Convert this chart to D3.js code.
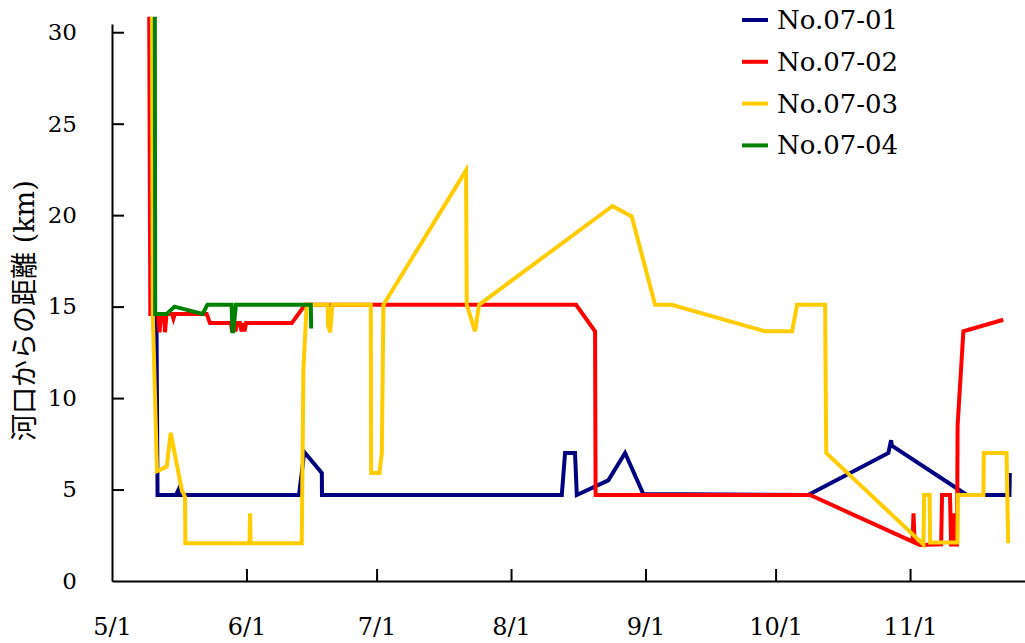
<!DOCTYPE html>
<html>
<head>
<meta charset="utf-8">
<script src="https://cdn.jsdelivr.net/npm/d3@7"></script>
<style>
  html, body { margin: 0; padding: 0; background: #fff; }
  svg { display: block; }
  .axis text { font-family: "DejaVu Serif", serif; fill: #000; }
  .axis path, .axis line { stroke: #000; stroke-width: 2px; }
</style>
</head>
<body>
<svg id="chart" width="1025" height="643"></svg>
<script>
// Tracking records: distance from the river mouth (km) over time, 2007 season
const seriesNames = ["No.07-01", "No.07-02", "No.07-03", "No.07-04"];
const seriesColors = ["#000080", "#ff0000", "#ffcc00", "#008000"];

const track0701 = [
  ["05/11 06:00", 14.5], ["05/11 12:00", 4.7], ["05/15 18:00", 4.7], ["05/16 06:00", 4.95],
  ["05/16 12:00", 4.7], ["06/13 03:00", 4.7], ["06/14 08:00", 7.05], ["06/18 09:00", 5.9],
  ["06/18 10:00", 4.7], ["08/12 17:00", 4.7], ["08/13 11:00", 7.0], ["08/15 18:00", 7.0],
  ["08/16 04:00", 4.7], ["08/23 10:00", 5.5], ["08/27 07:00", 7.0], ["08/31 12:00", 4.75],
  ["10/08 12:00", 4.7], ["10/27 00:00", 7.0], ["10/27 15:00", 7.7], ["10/27 19:00", 7.4],
  ["11/11 18:00", 5.07], ["11/14 02:00", 4.7], ["11/23 22:00", 4.7], ["11/24 00:00", 5.9]
];

const track0702 = [
  ["05/09 14:00", 30.85], ["05/09 20:00", 14.6], ["05/11 14:00", 14.6], ["05/11 23:00", 13.6],
  ["05/12 07:00", 14.6], ["05/13 00:00", 14.6], ["05/13 05:00", 13.6], ["05/13 14:00", 14.6],
  ["05/14 20:00", 14.6], ["05/15 04:00", 14.35], ["05/15 12:00", 14.6], ["05/22 20:00", 14.6],
  ["05/23 14:00", 14.1], ["05/28 11:00", 14.1], ["05/28 16:00", 13.65], ["05/28 21:00", 14.1],
  ["05/29 03:00", 14.1], ["05/29 11:00", 13.65], ["05/29 20:00", 14.1], ["05/30 12:00", 14.1],
  ["05/30 21:00", 13.65], ["05/31 05:00", 14.1], ["05/31 13:00", 13.65], ["05/31 22:00", 14.1],
  ["06/11 11:00", 14.1], ["06/14 12:00", 15.1], ["08/16 00:00", 15.1], ["08/20 09:00", 13.65],
  ["08/20 12:00", 4.7], ["10/08 23:00", 4.7], ["11/01 14:00", 2.15], ["11/01 19:00", 3.7],
  ["11/02 01:00", 2.1], ["11/03 07:00", 1.97], ["11/08 04:00", 2.0], ["11/08 09:00", 4.7],
  ["11/10 05:00", 4.7], ["11/10 11:00", 2.0], ["11/11 01:00", 2.0], ["11/11 06:00", 3.7],
  ["11/11 12:00", 2.0], ["11/11 20:00", 2.0], ["11/11 23:00", 8.5], ["11/13 07:00", 13.65],
  ["11/22 12:00", 14.28]
];

const track0703 = [
  ["05/10 05:00", 30.85], ["05/10 10:00", 14.5], ["05/11 09:00", 6.0], ["05/13 15:00", 6.25],
  ["05/14 13:00", 8.1], ["05/17 02:00", 4.98], ["05/17 20:00", 4.6], ["05/17 22:00", 2.06],
  ["06/01 17:00", 2.06], ["06/01 20:00", 3.7], ["06/01 23:00", 2.06], ["06/13 18:00", 2.06],
  ["06/14 03:00", 11.5], ["06/14 21:00", 15.1], ["06/19 17:00", 15.1], ["06/19 19:00", 14.0],
  ["06/20 07:00", 13.6], ["06/20 19:00", 15.1], ["06/29 16:00", 15.1], ["06/29 18:00", 5.9],
  ["07/01 16:00", 5.9], ["07/02 05:00", 7.0], ["07/02 14:00", 15.1], ["07/21 15:00", 22.45],
  ["07/21 19:00", 15.1], ["07/23 17:00", 13.65], ["07/24 15:00", 15.1], ["08/24 09:00", 20.5],
  ["08/28 20:00", 19.93], ["09/03 05:00", 15.1], ["09/07 01:00", 15.1], ["09/28 14:00", 13.65],
  ["10/04 19:00", 13.65], ["10/05 23:00", 15.1], ["10/12 10:00", 15.1], ["10/12 16:00", 7.0],
  ["11/04 02:00", 2.0], ["11/04 06:00", 4.7], ["11/05 12:00", 4.7], ["11/05 15:00", 2.1],
  ["11/11 22:00", 2.1], ["11/12 00:00", 4.7], ["11/17 22:00", 4.7], ["11/18 00:00", 7.0],
  ["11/23 06:00", 7.0], ["11/23 15:00", 2.06]
];

const track0704 = [
  ["05/10 21:00", 30.85], ["05/10 23:00", 14.6], ["05/13 15:00", 14.6], ["05/15 10:00", 15.0],
  ["05/21 21:00", 14.6], ["05/23 00:00", 15.1], ["05/28 14:00", 15.1], ["05/28 18:00", 13.65],
  ["05/28 23:00", 13.65], ["05/29 14:00", 15.1], ["06/15 20:00", 15.1], ["06/15 22:00", 13.8]
];

const tracks = [track0701, track0702, track0703, track0704];

const xTickLabels = ["5/1", "6/1", "7/1", "8/1", "9/1", "10/1", "11/1"];
const yTickValues = [0, 5, 10, 15, 20, 25, 30];
const yTitle = "河口からの距離 (km)";

const year = 2007;
const parseTime = d3.timeParse("%Y/%m/%d %H:%M");
const parseTick = d3.timeParse("%Y/%m/%d");

const svg = d3.select("#chart");

const x = d3.scaleTime()
  .domain([parseTime(year + "/05/01 00:00"), parseTime(year + "/11/27 12:00")])
  .range([112, 1025]);

const y = d3.scaleLinear()
  .domain([0, 30.45])
  .range([581, 24]);

// axes, ticks pointing into the plot
const xTicks = xTickLabels.map(s => parseTick(year + "/" + s));
const xAxis = d3.axisBottom(x)
  .tickValues(xTicks)
  .tickFormat((d, i) => xTickLabels[i])
  .tickSizeInner(-12)
  .tickSizeOuter(0)
  .tickPadding(37);

svg.append("g")
  .attr("class", "axis x")
  .attr("transform", `translate(0,${y(0)})`)
  .call(xAxis)
  .call(g => g.selectAll("text").style("font-size", "24px"))
  .call(g => g.selectAll(".tick").filter((d, i) => i === 0).select("line").remove());

const yAxis = d3.axisLeft(y)
  .tickValues(yTickValues)
  .tickSizeInner(-12)
  .tickSizeOuter(0)
  .tickPadding(35);

svg.append("g")
  .attr("class", "axis y")
  .attr("transform", `translate(${x.range()[0]},0)`)
  .call(yAxis)
  .call(g => g.selectAll("text").style("font-size", "23px"))
  .call(g => g.selectAll(".tick").filter(d => d === 0).select("line").remove());

svg.append("text")
  .attr("transform", `translate(24,${(y(0) + y(30)) / 2 + 4}) rotate(-90)`)
  .attr("text-anchor", "middle")
  .attr("dominant-baseline", "central")
  .style("font-family", "'DejaVu Serif', 'Noto Sans CJK JP', serif")
  .style("font-size", "27px")
  .text(yTitle);

// series lines
const line = d3.line()
  .x(d => x(parseTime(year + "/" + d[0])))
  .y(d => y(d[1]));

svg.append("g")
  .selectAll("path")
  .data(tracks)
  .join("path")
  .attr("d", line)
  .attr("fill", "none")
  .attr("stroke", (d, i) => seriesColors[i])
  .attr("stroke-width", 4)
  .attr("stroke-linejoin", "miter");

// legend
const legend = svg.append("g")
  .selectAll("g")
  .data(seriesNames)
  .join("g")
  .attr("transform", (d, i) => `translate(742,${20 + i * 41.8})`);

legend.append("line")
  .attr("x1", 0).attr("x2", 26)
  .attr("stroke", (d, i) => seriesColors[i])
  .attr("stroke-width", 4);

legend.append("text")
  .attr("x", 35)
  .attr("dominant-baseline", "central")
  .style("font-family", "'DejaVu Serif', serif")
  .style("font-size", "26px")
  .text(d => d);
</script>
</body>
</html>
